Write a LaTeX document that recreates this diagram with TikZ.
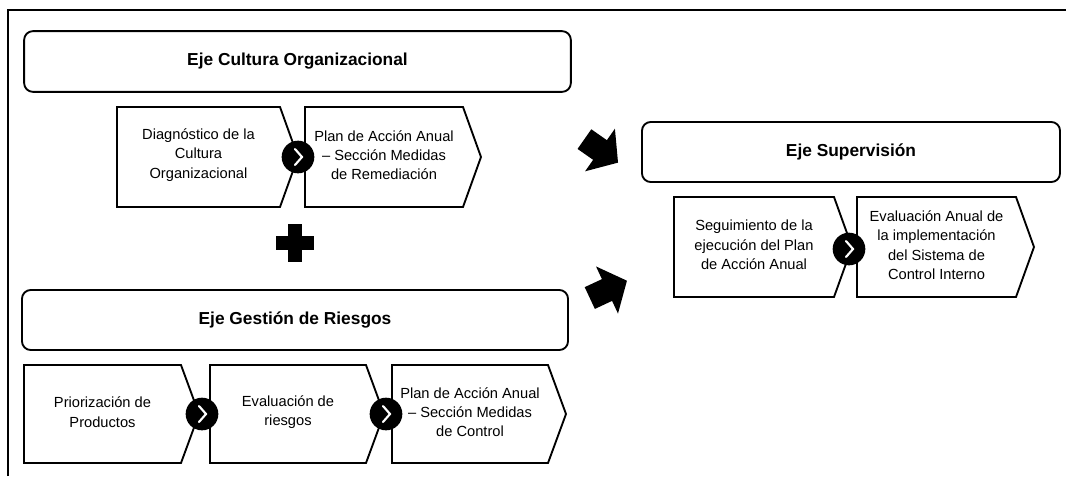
\documentclass[tikz,border=0pt]{standalone}
\usepackage{fontspec}
\setmainfont{Liberation Sans}
\newcommand\stepshape[6]{%
  \draw[outline] (#2,#4) -- (#3,#4) -- ({#3+18},{(#4+#5)/2}) -- (#3,#5) -- (#2,#5) -- cycle;
  \node[stxt] (#1) at ({(#2+#3)/2},{(#4+#5)/2-2}) {#6};
}
\newcommand\joincircle[3]{%
  \node[joint] (#1) at (#2,#3) {};
  \draw[white, line width=1.6pt, line cap=round, line join=miter] ([shift={(-3,-8)}]#1.center) -- ([shift={(4,0)}]#1.center) -- ([shift={(-3,8)}]#1.center);
}
\begin{document}
\begin{tikzpicture}[x=0.75pt,y=-0.75pt,
  titlebox/.style={draw=black, line width=1.4pt, rounded corners=6.5pt, font=\fontsize{13}{15}\selectfont\bfseries, inner sep=0pt},
  stxt/.style={font=\fontsize{11}{14.5}\selectfont, align=center, inner sep=0pt},
  outline/.style={draw=black, line width=1.4pt},
  joint/.style={circle, fill=black, minimum size=24.5pt, inner sep=0pt},
  bigarrow/.style={fill=black}
]
\useasboundingbox (0,0) rectangle (1066,476);
\fill[white] (0,0) rectangle (1066,476);
% outer frame (partly visible)
\draw[line width=2pt] (8,476) -- (8,10) -- (1066,10);

% Eje Cultura Organizacional
\node[titlebox, minimum width=410pt, minimum height=45.5pt] (tco) at (297.5,61.5) {Eje Cultura Organizacional};
\stepshape{a1}{117}{280}{107}{207}{Diagnóstico de la\\Cultura\\Organizacional}
\stepshape{a2}{305}{463}{107}{207}{Plan de Acción Anual\\– Sección Medidas\\de Remediación}
\joincircle{ja}{298}{157}

% plus sign
\fill (288,224) rectangle (302,262);
\fill (276,236) rectangle (314,250);

% Eje Gestión de Riesgos
\node[titlebox, minimum width=409.5pt, minimum height=45pt] (tgr) at (295,320) {Eje Gestión de Riesgos};
\stepshape{b1}{24}{181}{365}{463}{Priorización de\\Productos}
\stepshape{b2}{210}{366}{365}{463}{Evaluación de\\riesgos}
\stepshape{b3}{392}{548}{365}{463}{Plan de Acción Anual\\– Sección Medidas\\de Control}
\joincircle{jb1}{202}{414}
\joincircle{jb2}{386}{414}

% Eje Supervisión
\node[titlebox, minimum width=313.5pt, minimum height=45pt] (tsu) at (851,152) {Eje Supervisión};
\stepshape{c1}{674}{834}{197}{297}{Seguimiento de la\\ejecución del Plan\\de Acción Anual}
\stepshape{c2}{857}{1016}{197}{297}{Evaluación Anual de\\la implementación\\del Sistema de\\Control Interno}
\joincircle{jc}{849}{249}

% big arrows
\begin{scope}[shift={(600,150)}, rotate=-35]
  \fill[bigarrow] (-19,-12) -- (0,-12) -- (0,-26) -- (22,0) -- (0,26) -- (0,12) -- (-19,12) -- cycle;
\end{scope}
\begin{scope}[shift={(607,290)}, rotate=25]
  \fill[bigarrow] (-19,-12) -- (0,-12) -- (0,-26) -- (22,0) -- (0,26) -- (0,12) -- (-19,12) -- cycle;
\end{scope}
\end{tikzpicture}
\end{document}
